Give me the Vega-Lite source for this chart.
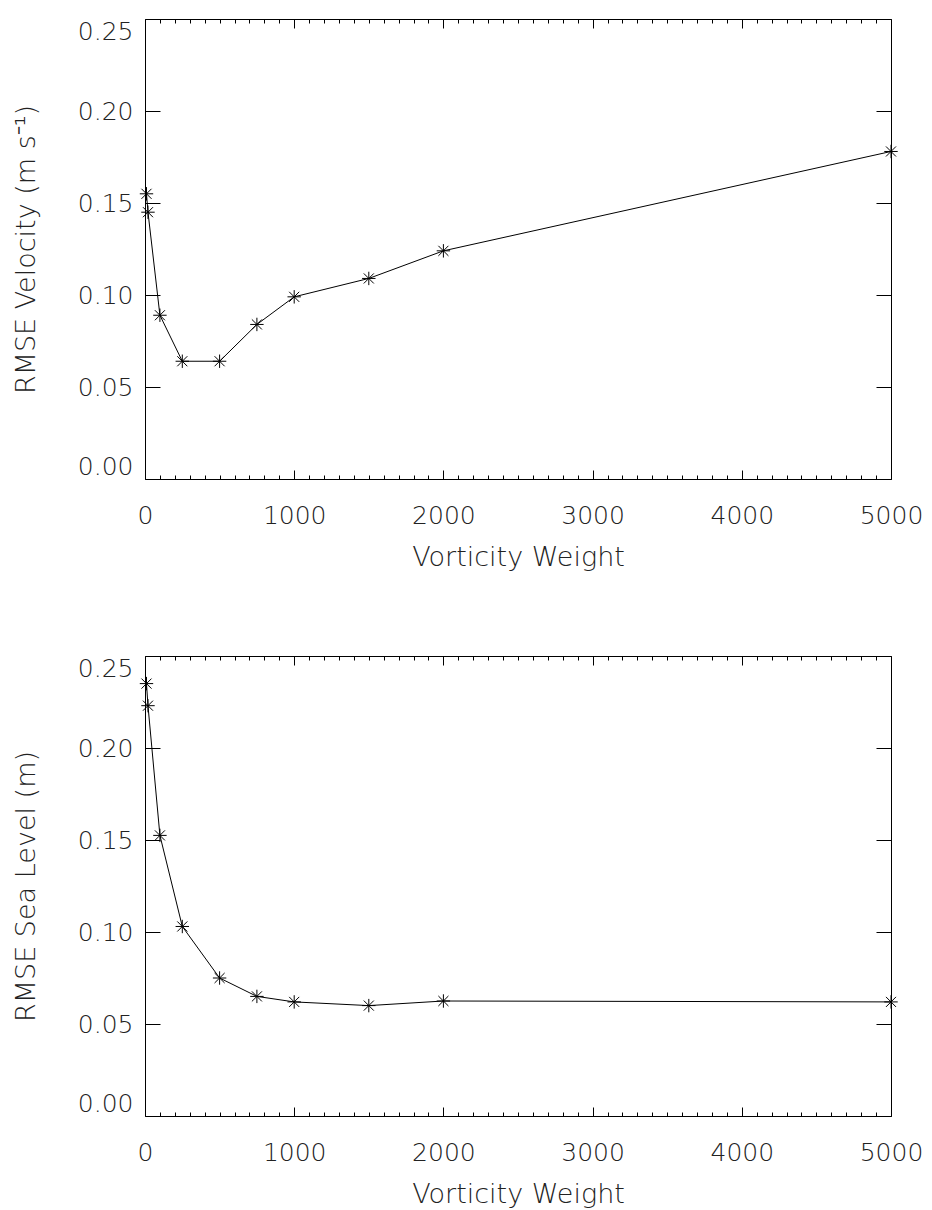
{
  "$schema": "https://vega.github.io/schema/vega-lite/v6.json",
  "background": "white",
  "padding": {"left": 11, "top": 18, "right": 30, "bottom": 0},
  "datasets": {
    "velocity": [
      {"weight": 10, "rmse": 0.155},
      {"weight": 20, "rmse": 0.145},
      {"weight": 100, "rmse": 0.089},
      {"weight": 250, "rmse": 0.064},
      {"weight": 500, "rmse": 0.064},
      {"weight": 750, "rmse": 0.084},
      {"weight": 1000, "rmse": 0.099},
      {"weight": 1500, "rmse": 0.109},
      {"weight": 2000, "rmse": 0.124},
      {"weight": 5000, "rmse": 0.178}
    ],
    "sealevel": [
      {"weight": 10, "rmse": 0.235},
      {"weight": 20, "rmse": 0.223},
      {"weight": 100, "rmse": 0.1525},
      {"weight": 250, "rmse": 0.103},
      {"weight": 500, "rmse": 0.075},
      {"weight": 750, "rmse": 0.065},
      {"weight": 1000, "rmse": 0.062},
      {"weight": 1500, "rmse": 0.06},
      {"weight": 2000, "rmse": 0.0625},
      {"weight": 5000, "rmse": 0.062}
    ]
  },
  "spacing": 84,
  "vconcat": [
    {
      "width": 746,
      "height": 460,
      "data": {"name": "velocity"},
      "layer": [
        {
          "mark": {"type": "line", "color": "black", "strokeWidth": 1},
          "encoding": {
            "x": {
              "field": "weight", "type": "quantitative",
              "scale": {"domain": [0, 5000], "nice": false, "zero": false},
              "axis": {
                "orient": "bottom", "title": "Vorticity Weight", "format": "d",
                "values": [0,100,200,300,400,500,600,700,800,900,1000,1100,1200,1300,1400,1500,1600,1700,1800,1900,2000,2100,2200,2300,2400,2500,2600,2700,2800,2900,3000,3100,3200,3300,3400,3500,3600,3700,3800,3900,4000,4100,4200,4300,4400,4500,4600,4700,4800,4900,5000],
                "labelExpr": "datum.value % 1000 === 0 ? datum.label : ''",
                "tickSize": {"condition": {"test": "datum.value % 1000 === 0", "value": -9}, "value": -4},
                "labelPadding": 33, "labelOverlap": false, "labelFlush": false, "labelBound": false,
                "titlePadding": 11
              }
            },
            "y": {
              "field": "rmse", "type": "quantitative",
              "scale": {"domain": [0, 0.25], "nice": false},
              "axis": {
                "orient": "left", "title": "RMSE Velocity (m s⁻¹)", "format": ".2f",
                "values": [0, 0.05, 0.1, 0.15, 0.2, 0.25],
                "tickSize": -15, "labelPadding": 27, "labelFlush": true, "labelOverlap": false,
                "titlePadding": 37
              }
            }
          }
        },
        {
          "mark": {"type": "point", "shape": "M-1,0L1,0M0,-1L0,1M-0.75,-0.75L0.75,0.75M-0.75,0.75L0.75,-0.75", "filled": false, "stroke": "black", "strokeWidth": 1, "size": 180, "opacity": 1},
          "encoding": {
            "x": {
              "field": "weight", "type": "quantitative",
              "axis": {
                "orient": "top", "title": null, "labels": false,
                "values": [0,100,200,300,400,500,600,700,800,900,1000,1100,1200,1300,1400,1500,1600,1700,1800,1900,2000,2100,2200,2300,2400,2500,2600,2700,2800,2900,3000,3100,3200,3300,3400,3500,3600,3700,3800,3900,4000,4100,4200,4300,4400,4500,4600,4700,4800,4900,5000],
                "tickSize": {"condition": {"test": "datum.value % 1000 === 0", "value": -9}, "value": -4}
              }
            },
            "y": {
              "field": "rmse", "type": "quantitative",
              "axis": {"orient": "right", "title": null, "labels": false, "values": [0, 0.05, 0.1, 0.15, 0.2, 0.25], "tickSize": -15}
            }
          }
        }
      ],
      "resolve": {"axis": {"x": "independent", "y": "independent"}}
    },
    {
      "width": 746,
      "height": 460,
      "data": {"name": "sealevel"},
      "layer": [
        {
          "mark": {"type": "line", "color": "black", "strokeWidth": 1},
          "encoding": {
            "x": {
              "field": "weight", "type": "quantitative",
              "scale": {"domain": [0, 5000], "nice": false, "zero": false},
              "axis": {
                "orient": "bottom", "title": "Vorticity Weight", "format": "d",
                "values": [0,100,200,300,400,500,600,700,800,900,1000,1100,1200,1300,1400,1500,1600,1700,1800,1900,2000,2100,2200,2300,2400,2500,2600,2700,2800,2900,3000,3100,3200,3300,3400,3500,3600,3700,3800,3900,4000,4100,4200,4300,4400,4500,4600,4700,4800,4900,5000],
                "labelExpr": "datum.value % 1000 === 0 ? datum.label : ''",
                "tickSize": {"condition": {"test": "datum.value % 1000 === 0", "value": -9}, "value": -4},
                "labelPadding": 33, "labelOverlap": false, "labelFlush": false, "labelBound": false,
                "titlePadding": 11
              }
            },
            "y": {
              "field": "rmse", "type": "quantitative",
              "scale": {"domain": [0, 0.25], "nice": false},
              "axis": {
                "orient": "left", "title": "RMSE Sea Level (m)", "format": ".2f",
                "values": [0, 0.05, 0.1, 0.15, 0.2, 0.25],
                "tickSize": -15, "labelPadding": 27, "labelFlush": true, "labelOverlap": false,
                "titlePadding": 37
              }
            }
          }
        },
        {
          "mark": {"type": "point", "shape": "M-1,0L1,0M0,-1L0,1M-0.75,-0.75L0.75,0.75M-0.75,0.75L0.75,-0.75", "filled": false, "stroke": "black", "strokeWidth": 1, "size": 180, "opacity": 1},
          "encoding": {
            "x": {
              "field": "weight", "type": "quantitative",
              "axis": {
                "orient": "top", "title": null, "labels": false,
                "values": [0,100,200,300,400,500,600,700,800,900,1000,1100,1200,1300,1400,1500,1600,1700,1800,1900,2000,2100,2200,2300,2400,2500,2600,2700,2800,2900,3000,3100,3200,3300,3400,3500,3600,3700,3800,3900,4000,4100,4200,4300,4400,4500,4600,4700,4800,4900,5000],
                "tickSize": {"condition": {"test": "datum.value % 1000 === 0", "value": -9}, "value": -4}
              }
            },
            "y": {
              "field": "rmse", "type": "quantitative",
              "axis": {"orient": "right", "title": null, "labels": false, "values": [0, 0.05, 0.1, 0.15, 0.2, 0.25], "tickSize": -15}
            }
          }
        }
      ],
      "resolve": {"axis": {"x": "independent", "y": "independent"}}
    }
  ],
  "config": {
    "view": {"stroke": "black", "strokeWidth": 1},
    "axis": {
      "domain": false, "grid": false,
      "tickColor": "black", "tickWidth": 1,
      "labelFont": "DejaVu Sans", "labelFontSize": 25, "labelFontWeight": 200, "labelColor": "#222",
      "titleFont": "DejaVu Sans", "titleFontSize": 27, "titleFontWeight": 200, "titleColor": "#222"
    }
  }
}
